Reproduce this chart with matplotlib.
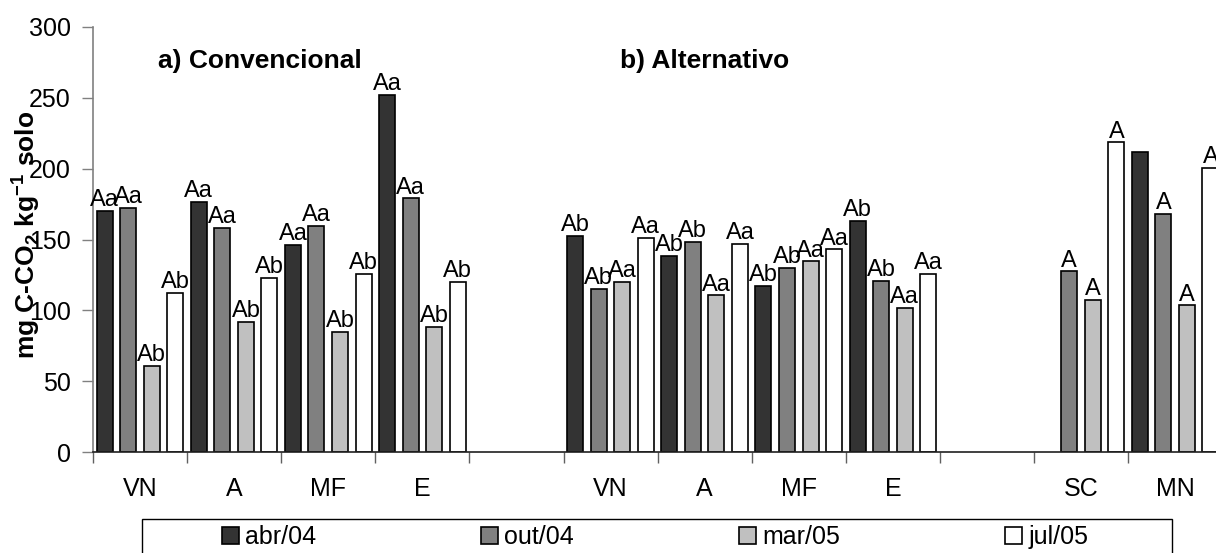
import numpy as np
import matplotlib
matplotlib.use("Agg")
import matplotlib.pyplot as plt
from matplotlib.patches import Rectangle

plt.rcParams['font.family'] = ['Liberation Sans', 'DejaVu Sans']
plt.rcParams['mathtext.fontset'] = 'custom'
plt.rcParams['mathtext.rm'] = 'Liberation Sans'
plt.rcParams['mathtext.bf'] = 'Liberation Sans:bold'

# Soil respiration (mg C-CO2 kg-1 soil) per area and sampling date
categories = ["VN", "A", "MF", "E", "", "VN", "A", "MF", "E", "", "SC", "MN"]
series_names = ["abr/04", "out/04", "mar/05", "jul/05"]
nan = np.nan
abr04 = [170, 176.5, 146, 252, nan, 152.5, 138.5, 117.5, 163, nan, nan, 211.5]
out04 = [172, 158, 159.5, 179, nan, 115, 148.5, 130, 120.5, nan, 127.5, 168]
mar05 = [61, 92, 85, 88, nan, 120, 110.5, 134.5, 102, nan, 107.5, 103.5]
jul05 = [112, 123, 126, 120, nan, 151, 147, 143, 126, nan, 218.5, 200.5]

# statistical letters shown above each bar
lab_abr04 = ["Aa", "Aa", "Aa", "Aa", "", "Ab", "Ab", "Ab", "Ab", "", "", ""]
lab_out04 = ["Aa", "Aa", "Aa", "Aa", "", "Ab", "Ab", "Ab", "Ab", "", "A", "A"]
lab_mar05 = ["Ab", "Ab", "Ab", "Ab", "", "Aa", "Aa", "Aa", "Aa", "", "A", "A"]
lab_jul05 = ["Ab", "Ab", "Ab", "Ab", "", "Aa", "Aa", "Aa", "Aa", "", "A", "A"]

panel_titles = ["a) Convencional", "b) Alternativo"]

values = [abr04, out04, mar05, jul05]
labels = [lab_abr04, lab_out04, lab_mar05, lab_jul05]
colors = ["#333333", "#808080", "#c0c0c0", "#ffffff"]

W, H = 1216, 553
fig = plt.figure(figsize=(W / 100, H / 100), dpi=100)
ax_left, ax_bottom = 93 / W, (H - 452) / H
ax_w, ax_h = 12 * 94.1 / W, 425 / H
ax = fig.add_axes([ax_left, ax_bottom, ax_w, ax_h])

n = len(categories)
centers = np.arange(n) + 0.5
slot = 0.25
bw = 0.17
for j, (vals, labs, col, name) in enumerate(zip(values, labels, colors, series_names)):
    xs = centers + (j - 1.5) * slot
    ax.bar(xs, vals, width=bw, color=col, edgecolor="black",
           linewidth=1.2, label=name, zorder=2)
    for x, v, t in zip(xs, vals, labs):
        if t and not np.isnan(v):
            ax.annotate(t, (x, v), xytext=(0, 3.5), textcoords="offset points",
                        ha="center", va="baseline", fontsize=17, zorder=3)

ax.set_xlim(0, n)
ax.set_ylim(0, 300)
ax.set_yticks(np.arange(0, 301, 50))
ax.tick_params(axis="y", labelsize=18, length=8, width=1, color="#808080",
               pad=8, direction="out")

ax.set_xticks(np.arange(0, n + 1))
ax.set_xticklabels([])
ax.set_xticks(centers, minor=True)
ax.set_xticklabels(categories, minor=True)
ax.tick_params(axis="x", which="major", length=8, width=1, color="#606060",
               direction="out")
ax.tick_params(axis="x", which="minor", length=0, labelsize=18, pad=18)

for s in ("top", "right"):
    ax.spines[s].set_visible(False)
ax.spines["left"].set_color("#808080")
ax.spines["left"].set_linewidth(1.2)
ax.spines["bottom"].set_color("#202020")
ax.spines["bottom"].set_linewidth(1.2)

ax.set_ylabel(r"mg C-CO$_\mathbf{2}$ kg$^\mathbf{-1}$ solo", fontsize=19,
              fontweight="bold")
ax.yaxis.set_label_coords(-0.045, 0.51)

ax.text(0.69, 271, panel_titles[0], fontsize=19, fontweight="bold",
        ha="left", va="baseline")
ax.text(5.6, 271, panel_titles[1], fontsize=19, fontweight="bold",
        ha="left", va="baseline")

# legend box along the bottom edge
fig.patches.append(Rectangle((142 / W, -0.05), 1030 / W, (H - 519) / H + 0.05,
                             transform=fig.transFigure, fill=False,
                             edgecolor="black", linewidth=1.0))
fig.legend(loc="center", bbox_to_anchor=(655 / W, 1 - 537 / H), ncol=4,
           frameon=False, fontsize=18, handlelength=0.68, handleheight=0.65,
           handletextpad=0.25, columnspacing=6.6, borderpad=0, borderaxespad=0)

fig.savefig("out.png", dpi=100)
